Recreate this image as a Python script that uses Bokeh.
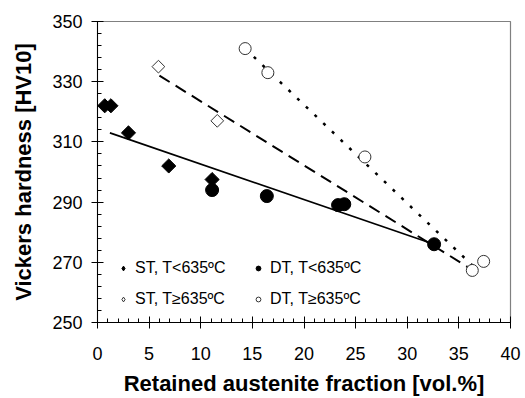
from bokeh.plotting import figure
from bokeh.models import Range1d, SingleIntervalTicker, FixedTicker, Legend, LegendItem
from bokeh.embed import file_html
from bokeh.resources import INLINE
import math

# Data
st_lo_x = [0.7, 1.3, 3.0, 6.9, 11.1]
st_lo_y = [322, 322, 313, 302, 297.5]
dt_lo_x = [11.1, 16.4, 23.3, 23.9, 32.6]
dt_lo_y = [294, 292, 289, 289.3, 276]
st_hi_x = [5.9, 11.6]
st_hi_y = [335, 317]
dt_hi_x = [14.3, 16.5, 25.9, 36.3, 37.4]
dt_hi_y = [341, 333, 305, 267.3, 270.3]

# Trend lines (endpoints)
fit_lo_x = [1.2, 32.6]
fit_lo_y = [313, 276]
fit_st_hi_x = [6.0, 36.3]
fit_st_hi_y = [332, 267.5]
fit_dt_hi_x = [14.3, 36.6]
fit_dt_hi_y = [341, 268]

labels = ["ST, T<635ºC", "DT, T<635ºC", "ST, T≥635ºC", "DT, T≥635ºC"]
y_ticks = [250, 270, 290, 310, 330, 350]
y_minor = list(range(250, 351, 4))

FONT = "Liberation Sans"
NAN = float("nan")

p = figure(width=525, height=398, output_backend="svg", toolbar_location=None,
           x_range=Range1d(0, 40), y_range=Range1d(250, 350),
           min_border_left=97, min_border_right=15, min_border_top=21, min_border_bottom=71)
p.grid.visible = False
p.outline_line_color = "#808080"
p.outline_line_width = 1.2

p.line(fit_lo_x, fit_lo_y, line_color="black", line_width=1.6)
p.line(fit_st_hi_x, fit_st_hi_y, line_color="black", line_width=2, line_dash="12 7")
p.line(fit_dt_hi_x, fit_dt_hi_y, line_color="black", line_width=2.5, line_dash="3 9")

p.scatter(st_lo_x, st_lo_y, marker="square", angle=math.pi / 4, size=10,
          fill_color="black", line_color="black")
r2 = p.scatter(dt_lo_x, dt_lo_y, marker="circle", size=13, fill_color="black", line_color="black")
p.scatter(st_hi_x, st_hi_y, marker="square", angle=math.pi / 4, size=9,
          fill_color="white", line_color="#333333", line_width=1)
r4 = p.scatter(dt_hi_x, dt_hi_y, marker="circle", size=12, fill_color="white", line_color="#333333", line_width=1)

# legend swatches for the diamond series (placeholder point, not drawn)
r1 = p.scatter([NAN], [NAN], marker="diamond", size=14, fill_color="black", line_color="black")
r3 = p.scatter([NAN], [NAN], marker="diamond", size=14, fill_color="white", line_color="#333333", line_width=1)

legend = Legend(items=[LegendItem(label=labels[0], renderers=[r1]),
                       LegendItem(label=labels[1], renderers=[r2]),
                       LegendItem(label=labels[2], renderers=[r3]),
                       LegendItem(label=labels[3], renderers=[r4])],
                location=(20, 13), ncols=2, orientation="horizontal",
                padding=0, margin=0, spacing=11,
                glyph_width=12, glyph_height=20, label_height=20, label_width=106,
                label_standoff=6, label_text_font=FONT, label_text_font_size="16px",
                label_text_color="black",
                border_line_color=None, background_fill_alpha=0)
p.add_layout(legend)

p.xaxis.ticker = SingleIntervalTicker(interval=5, num_minor_ticks=5)
p.yaxis.ticker = FixedTicker(ticks=y_ticks, minor_ticks=y_minor)

for ax in (p.xaxis[0], p.yaxis[0]):
    ax.axis_line_color = "black"
    ax.major_tick_line_color = "black"
    ax.minor_tick_line_color = "black"
    ax.major_tick_in = 6
    ax.major_tick_out = 6
    ax.minor_tick_in = 4
    ax.minor_tick_out = 0
    ax.major_label_text_font = FONT
    ax.major_label_text_font_size = "18px"
    ax.major_label_text_color = "black"
    ax.axis_label_text_font = FONT
    ax.axis_label_text_font_size = "22px"
    ax.axis_label_text_font_style = "bold"
    ax.axis_label_text_color = "black"

p.xaxis.axis_label = "Retained austenite fraction [vol.%]"
p.yaxis.axis_label = "Vickers hardness [HV10]"
p.xaxis.major_label_standoff = 18
p.yaxis.major_label_standoff = 9
p.xaxis.axis_label_standoff = 8
p.yaxis.axis_label_standoff = 13

open("out.html", "w").write(file_html(p, INLINE))
